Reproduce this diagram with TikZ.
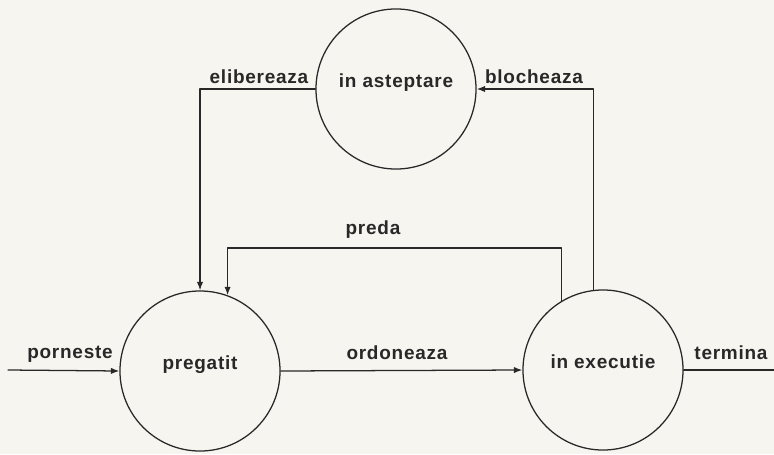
\documentclass[tikz,border=0pt]{standalone}
\usepackage{fontspec}
\setmainfont{Liberation Sans}[LetterSpace=4]
\usetikzlibrary{arrows.meta}

\definecolor{paper}{RGB}{247,245,240}
\definecolor{ink}{RGB}{40,40,40}

\begin{document}
\begin{tikzpicture}[
  x=0.025cm, y=-0.025cm,  % one unit = one pixel of the scan, y downwards
  every path/.style={line cap=round, line join=round},
  txt/.style={font=\bfseries\fontsize{13.5}{15}\selectfont, text=ink},
  state/.style={txt, circle, draw=ink, line width=0.9pt, minimum size=4cm,
    text height=8pt, text depth=10.5pt, inner sep=0pt},
  wire/.style={draw=ink, line width=0.9pt},
  flow/.style={wire, -{Latex[length=6pt,width=4.5pt]}}
]

% ---------------- Frame ----------------
\fill[paper] (0,0) rectangle (774,454);
\useasboundingbox (0,0) rectangle (774,454);

% ---------------- States ----------------
\node[state] (wait)  at (396,89)  {in asteptare};
\node[state] (ready) at (200,371) {pregatit};
\node[state] (run)   at (603,370) {in executie};

% free ends of the outer lines
\coordinate (start) at (8,370);
\coordinate (stop)  at (774,370);
\coordinate (pb)    at (0,248); % level of the preda line

% ---------------- Transitions ----------------
\draw[flow] (start) -- (ready.west);
\draw[flow] (ready.east) -- (run.west);
\draw[wire] (run.east) -- (stop);
\draw[flow] (wait.west) -| (ready.north);
\draw[flow] (run.97) |- (wait.east);
\draw[flow] (run.121) |- (pb -| ready.70) -- (ready.70);

% ---------------- Labels ----------------
\node[txt] (l-start) at (70,354)  {porneste};
\node[txt] (l-order) at (397,353) {ordoneaza};
\node[txt] (l-stop)  at (731,353) {termina};
\node[txt] (l-free)  at (259,77)  {elibereaza};
\node[txt] (l-block) at (534,77)  {blocheaza};
\node[txt] (l-give)  at (373,230) {preda};

\end{tikzpicture}
\end{document}
